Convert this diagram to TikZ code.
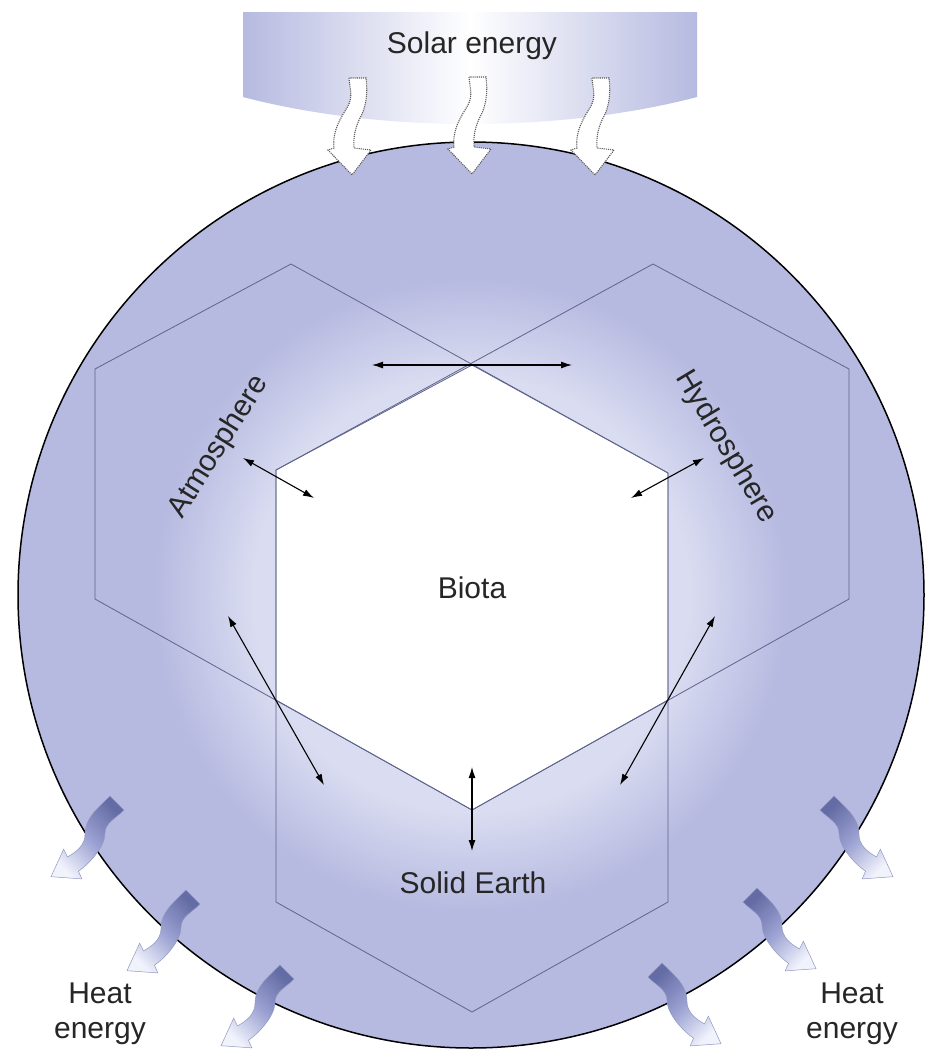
\documentclass[tikz,border=0pt]{standalone}
\usepackage{fontspec}
\setmainfont{Liberation Sans}
\usetikzlibrary{arrows.meta}
\definecolor{sphereblue}{RGB}{182,186,224}
\definecolor{glowc}{RGB}{218,220,241}
\definecolor{hexline}{RGB}{95,100,140}
\definecolor{heatdark}{RGB}{100,108,165}
\definecolor{heatmid}{RGB}{156,162,210}
\definecolor{heatlight}{RGB}{240,242,252}
\pgfdeclareradialshading{earthglow}{\pgfpoint{0bp}{0bp}}{color(0bp)=(glowc); color(12bp)=(glowc); color(17.5bp)=(sphereblue); color(50bp)=(sphereblue)}
\tikzset{
  hexedge/.style={draw=hexline, line width=0.8pt},
  dblarrow/.style={{Latex[length=11pt,width=7pt]}-{Latex[length=11pt,width=7pt]}, line width=1.1pt, black},
  lbl/.style={font=\fontsize{30}{35}\selectfont, text=black!85, inner sep=0pt, align=center},
  pics/solararrow/.style={code={
    \path[fill=white, draw=black!65, line width=1.1pt, densely dotted]
      (-8,0) .. controls (-7,12) and (-4,18) .. (-9,28)
      .. controls (-15,38) and (-25,52) .. (-23,70)
      -- (-29,72) -- (-5,97) -- (14,72) -- (-3,70)
      .. controls (-4,58) and (-1,48) .. (3,40)
      .. controls (9,30) and (11,15) .. (9,0) -- cycle;
  }},
  pics/heatarrow/.style={code={
    \shade[draw=heatdark!70, line width=0.5pt, top color=heatlight, bottom color=heatdark, middle color=heatmid, shading angle=#1]
      (-6.4,-6.4) .. controls (-18.4,5.6) and (-29,14) .. (-29,28)
      .. controls (-29,38) and (-36,44) .. (-45,49)
      -- (-48.5,42) -- (-60,67) -- (-32,69) -- (-35,62)
      .. controls (-26,56) and (-11,40) .. (-11,28)
      .. controls (-11,18) and (-1.6,14.4) .. (6.4,6.4) -- cycle;
  }}
}
\begin{document}
\begin{tikzpicture}[x=1pt,y=-1pt]
\useasboundingbox[fill=white] (0,0) rectangle (932,1060);

% earth disc with glow round the centre
\shade[shading=earthglow] (471,595) circle (453);

% biota (white core)
\fill[white] (472,365) -- (668,473) -- (668,700) -- (472,810) -- (276,700) -- (276,470) -- cycle;

% spheres
\draw[hexedge] (291,264) -- (95,369) -- (95,599) -- (472,810) -- (668,700) -- (668,473) -- cycle;
\draw[hexedge] (653,264) -- (849,369) -- (849,599) -- (472,810) -- (276,700) -- (276,470) -- cycle;
\draw[hexedge] (472,365) -- (668,473) -- (668,902) -- (472,1012) -- (276,902) -- (276,470) -- cycle;

% earth outline
\draw[black, line width=1.5pt] (471,595) circle (453);

% solar energy box
\shade[left color=sphereblue, right color=sphereblue, middle color=white]
  (243,12) -- (697,12) -- (697,97) .. controls (560,133) and (380,133) .. (243,97) -- cycle;
\node[lbl] (solar) at (472,46) {Solar energy};

% solar arrows
\pic at (357,78) {solararrow};
\pic at (477,77) {solararrow};
\pic at (600,78) {solararrow};

% heat arrows
\pic[scale=1.1] at (117,803) {heatarrow=135};
\pic[scale=1.1] at (193,897) {heatarrow=135};
\pic[scale=1.1] at (287,972) {heatarrow=135};
\pic[xscale=-1.1, yscale=1.1] at (827,803) {heatarrow=-135};
\pic[xscale=-1.1, yscale=1.1] at (750,895) {heatarrow=-135};
\pic[xscale=-1.1, yscale=1.1] at (655,970) {heatarrow=-135};

% labels
\node[lbl] (biota) at (472,588) {Biota};
\node[lbl] (solid) at (473,883) {Solid Earth};
\node[lbl, rotate=58] (atmo) at (219,447) {Atmosphere};
\node[lbl, rotate=-59] (hydro) at (726,447) {Hydrosphere};
\node[lbl] (heatL) at (100,1014) {Heat\\energy};
\node[lbl] (heatR) at (852,1014) {Heat\\energy};

% exchange arrows
\coordinate (ah1) at (372,365); \coordinate (hh1) at (572,365);
\coordinate (aa) at (243,458);  \coordinate (ab) at (314,498);
\coordinate (ha) at (704,458);  \coordinate (hb) at (631,498);
\coordinate (as) at (228,616);  \coordinate (sa) at (324,785);
\coordinate (hs) at (715,616);  \coordinate (sh) at (620,785);
\coordinate (bs) at (472,767);  \coordinate (sb) at (472,851);
\draw[dblarrow] (ah1) -- (hh1);
\draw[dblarrow] (aa) -- (ab);
\draw[dblarrow] (ha) -- (hb);
\draw[dblarrow] (as) -- (sa);
\draw[dblarrow] (hs) -- (sh);
\draw[dblarrow] (bs) -- (sb);
\end{tikzpicture}
\end{document}
